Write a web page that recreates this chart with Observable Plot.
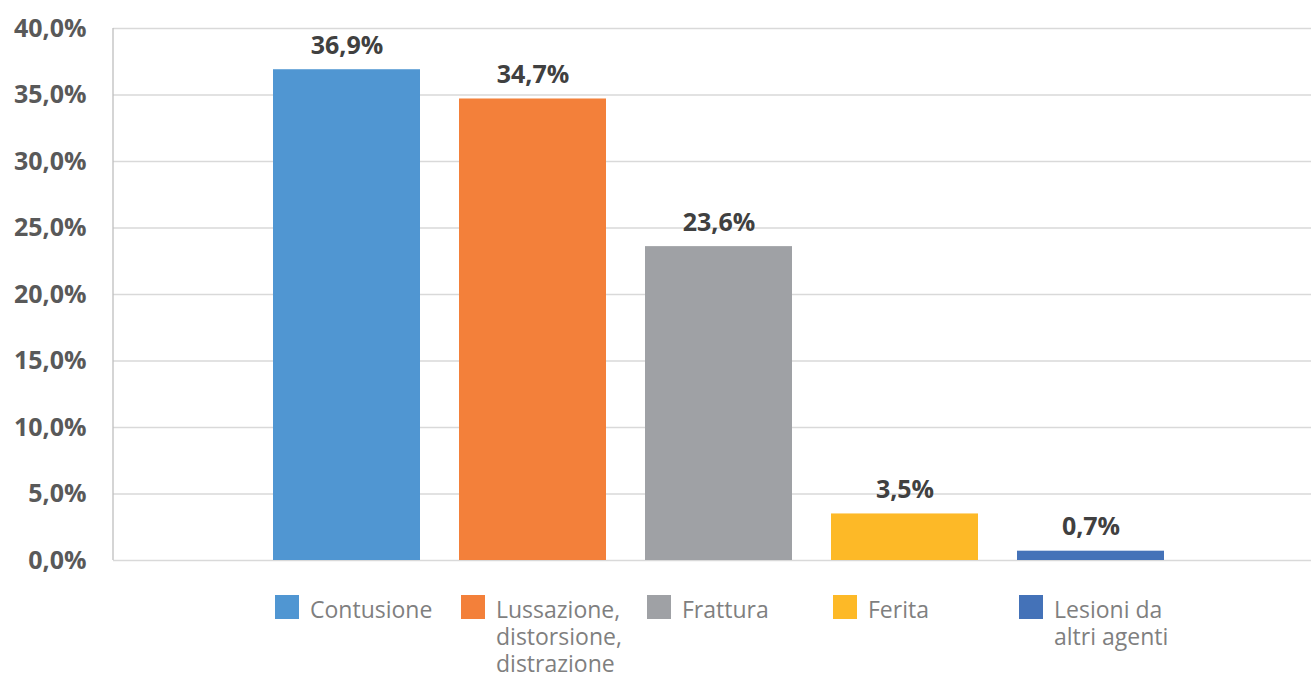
<!DOCTYPE html>
<html>
<head>
<meta charset="utf-8">
<script src="https://cdn.jsdelivr.net/npm/d3@7"></script>
<script src="https://cdn.jsdelivr.net/npm/@observablehq/plot@0.6"></script>
<style>
  html, body { margin: 0; padding: 0; background: #fff; }
  #wrap { position: relative; width: 1311px; height: 678px; font-family: "Open Sans", sans-serif; }
  .leg { position: absolute; top: 595px; display: flex; align-items: flex-start; }
  .sw { width: 24px; height: 24px; flex: none; }
  .lt { margin-left: 11px; margin-top: 1px; font-size: 23px; line-height: 27px; color: #7f7f7f; max-width: 150px; }
</style>
</head>
<body>
<div id="wrap"></div>
<script>
const categories = ["Contusione", "Lussazione, distorsione, distrazione", "Frattura", "Ferita", "Lesioni da altri agenti"];
const values = [36.9, 34.7, 23.6, 3.5, 0.7];
const colors = ["#5096d2", "#f3803a", "#9fa1a5", "#fdb927", "#4472b8"];
const yTicks = [0, 5, 10, 15, 20, 25, 30, 35, 40];

const data = categories.map((c, i) => ({cat: c, value: values[i], color: colors[i]}));
const fmt = v => v.toFixed(1).replace(".", ",") + "%";

const plot = Plot.plot({
  width: 1311,
  height: 580,
  marginLeft: 113,
  marginRight: 0,
  marginTop: 28,
  marginBottom: 20,
  style: {fontFamily: "Open Sans, sans-serif", background: "#fff"},
  x: {domain: categories, range: [253.5, 1183.5], paddingInner: 0.21, paddingOuter: 0.105, axis: null},
  y: {domain: [0, 40], ticks: yTicks, tickFormat: fmt, label: null},
  marks: [
    Plot.gridY(yTicks, {stroke: "#d9d9d9", strokeOpacity: 1, strokeWidth: 1.3}),
    Plot.axisY(yTicks, {tickSize: 0, tickPadding: 27, tickFormat: fmt, fontSize: 25, fontWeight: "bold", fill: "#595959", label: null}),
    Plot.barY(data, {x: "cat", y: "value", fill: "color"}),
    Plot.text(data, {x: "cat", y: "value", text: d => fmt(d.value), dy: -24, fontSize: 25, fontWeight: "bold", fill: "#404040"})
  ]
});

// vertical axis line at the left edge of the frame, through the y scale
const ys = plot.scale("y");
d3.select(plot).append("line")
  .attr("x1", 113).attr("x2", 113)
  .attr("y1", ys.apply(40)).attr("y2", ys.apply(0))
  .attr("stroke", "#bfbfbf").attr("stroke-width", 1.3);

const wrap = document.getElementById("wrap");
wrap.appendChild(plot);

const xs = plot.scale("x");
data.forEach(d => {
  const el = document.createElement("div");
  el.className = "leg";
  el.style.left = (xs.apply(d.cat) + 2) + "px";
  el.innerHTML = `<div class="sw" style="background:${d.color}"></div><div class="lt">${d.cat}</div>`;
  wrap.appendChild(el);
});
</script>
</body>
</html>
